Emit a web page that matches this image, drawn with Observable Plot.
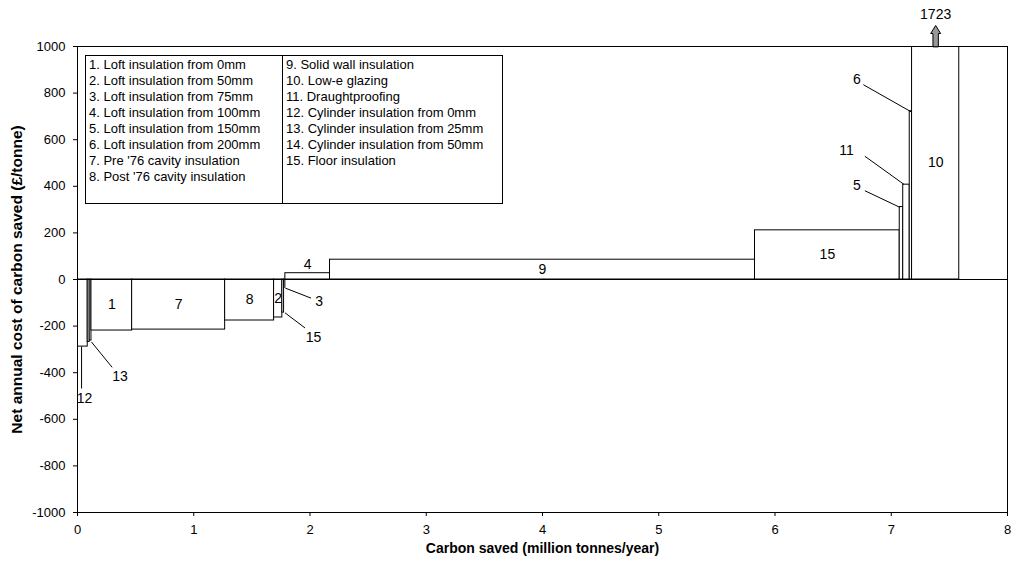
<!DOCTYPE html>
<html><head><meta charset="utf-8">
<script src="https://cdn.jsdelivr.net/npm/d3@7"></script>
<script src="https://cdn.jsdelivr.net/npm/@observablehq/plot@0.6"></script>
<style>
body{margin:0;background:#fff;}
#wrap{position:relative;width:1016px;height:565px;font-family:"Liberation Sans",Arial,sans-serif;}
#legend{position:absolute;left:85px;top:55px;width:418px;height:149px;border:1px solid #000;background:#fff;display:flex;font-size:13px;line-height:16px;box-sizing:border-box;color:#000;}
#legend .col{padding:1px 0 0 3px;box-sizing:border-box;white-space:nowrap;}
#legend .c1{width:197px;border-right:1px solid #000;}
</style></head><body><div id="wrap"><div id="chart"></div><div id="legend"></div></div>
<script>
// measure labels, in the order drawn left to right ("" = unlabelled)
const measures = ["12","13","","1","7","8","2","15","3","4","9","15","5","11","6","10"];
// carbon saved by each measure (million tonnes/year) = bar widths
const carbonSaved = [0.088,0.017,0.015,0.350,0.800,0.421,0.071,0.015,0.011,0.384,3.656,1.245,0.030,0.056,0.020,0.406];
// net annual cost of carbon saved (£/tonne) = bar heights
const netCost = [-288,-268,-262,-219,-215,-176,-163,-142,-35,27,85,211,311,407,722,1723];
// how the label of each bar is shown
const labelMode = ["callout","callout","none","inside","inside","inside","inside","callout","callout","above","inside","inside","callout","callout","callout","inside"];

const legendLeft = ["1. Loft insulation from 0mm","2. Loft insulation from 50mm","3. Loft insulation from 75mm","4. Loft insulation from 100mm","5. Loft insulation from 150mm","6. Loft insulation from 200mm","7. Pre '76 cavity insulation","8. Post '76 cavity insulation"];
const legendRight = ["9. Solid wall insulation","10. Low-e glazing","11. Draughtproofing","12. Cylinder insulation from 0mm","13. Cylinder insulation from 25mm","14. Cylinder insulation from 50mm","15. Floor insulation"];

const xTicks = [0,1,2,3,4,5,6,7,8];
const yTicks = [-1000,-800,-600,-400,-200,0,200,400,600,800,1000];

// callout annotations (data units): leader from bar to label
const calloutFromX = [0.035, 0.120, 1.785, 1.788, 7.073, 7.110, 7.170];
const calloutFromY = [-288, -268, -143, -37, 310, 408, 720];
const calloutToX   = [0.035, 0.298, 1.957, 2.009, 6.773, 6.773, 6.760];
const calloutToY   = [-468, -377, -208, -80, 381, 529, 836];
const calloutLabX  = [0.060, 0.365, 2.030, 2.078, 6.705, 6.615, 6.705];
const calloutLabY  = [-510, -418, -247, -93, 404, 553, 860];
const calloutText  = ["12","13","15","3","5","11","6"];

const yMax = 1000;
const ends = d3.cumsum(carbonSaved);
const rows = measures.map((m, i) => ({m, x1: ends[i] - carbonSaved[i], x2: ends[i], v: netCost[i], mode: labelMode[i]}));
const inside = rows.filter(r => r.mode === "inside");
const above = rows.filter(r => r.mode === "above");
const clipped = rows.filter(r => r.v > yMax);
const callouts = calloutText.map((t, i) => ({t, fx: calloutFromX[i], fy: calloutFromY[i], tx: calloutToX[i], ty: calloutToY[i], lx: calloutLabX[i], ly: calloutLabY[i]}));

const blockArrow = {
  draw(ctx, l) {
    const hw = 5, sw = 2.7, hh = 8;
    ctx.moveTo(-sw, 0); ctx.lineTo(-sw, -l + hh); ctx.lineTo(-hw, -l + hh);
    ctx.lineTo(0, -l); ctx.lineTo(hw, -l + hh); ctx.lineTo(sw, -l + hh); ctx.lineTo(sw, 0); ctx.closePath();
  }
};

const chart = Plot.plot({
  width: 1016, height: 565,
  marginLeft: 77, marginRight: 9, marginTop: 46, marginBottom: 53,
  style: {fontFamily: "'Liberation Sans', Arial, sans-serif", fontSize: "13px", background: "white", color: "black"},
  x: {domain: [0, 8], ticks: xTicks, tickFormat: d => String(d), label: null, tickSize: 4, tickPadding: 8},
  y: {domain: [-1000, 1000], ticks: yTicks, tickFormat: d => String(d), label: null, tickSize: 4, tickPadding: 8},
  marks: [
    Plot.rect(rows, {x1: "x1", x2: "x2", y1: d => 0, y2: "v", fill: "white", stroke: "black", strokeWidth: 1, clip: true}),
    Plot.ruleY([0], {stroke: "black", strokeWidth: 1}),
    Plot.frame({stroke: "black", strokeWidth: 1}),
    Plot.text(inside, {x: d => (d.x1 + d.x2) / 2, y: d => Math.min(d.v, yMax) / 2, text: "m", fontSize: 14}),
    Plot.text(above, {x: d => (d.x1 + d.x2) / 2, y: d => d.v, dy: -9, text: "m", fontSize: 14}),
    Plot.link(callouts, {x1: "fx", y1: "fy", x2: "tx", y2: "ty", stroke: "black", strokeWidth: 1}),
    Plot.text(callouts, {x: "lx", y: "ly", text: "t", fontSize: 14}),
    Plot.vector(clipped, {x: d => (d.x1 + d.x2) / 2, y: () => yMax, length: 21, anchor: "start", shape: blockArrow, fill: "#999", stroke: "black", strokeWidth: 1}),
    Plot.text(clipped, {x: d => (d.x1 + d.x2) / 2, y: () => yMax, dy: -32, text: d => String(d.v), fontSize: 14}),
    Plot.text(["Carbon saved (million tonnes/year)"], {frameAnchor: "bottom", textAnchor: "middle", lineAnchor: "middle", dy: 36, fontWeight: "bold", fontSize: 14}),
    Plot.text(["Net annual cost of carbon saved (£/tonne)"], {frameAnchor: "left", textAnchor: "middle", dx: -60, rotate: -90, fontWeight: "bold", fontSize: 15.5})
  ]
});
document.getElementById("chart").appendChild(chart);

const lg = document.getElementById("legend");
const c1 = document.createElement("div"); c1.className = "col c1";
c1.innerHTML = legendLeft.map(s => `<div>${s}</div>`).join("");
const c2 = document.createElement("div"); c2.className = "col c2";
c2.innerHTML = legendRight.map(s => `<div>${s}</div>`).join("");
lg.appendChild(c1); lg.appendChild(c2);
</script></body></html>
